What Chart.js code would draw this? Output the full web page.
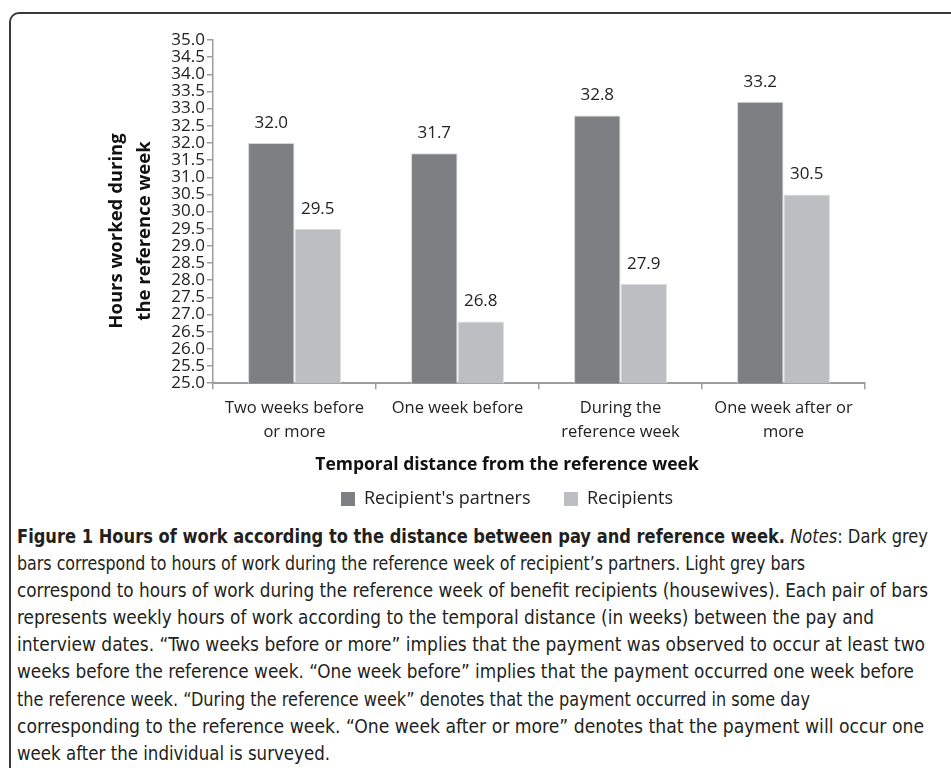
<!DOCTYPE html>
<html>
<head>
<meta charset="utf-8">
<script src="https://cdn.jsdelivr.net/npm/chart.js@4.4.1/dist/chart.umd.min.js"></script>
<style>
  html, body { margin: 0; padding: 0; background: #fff; width: 951px; height: 768px; overflow: hidden; }
  .frame { position: absolute; left: 9px; top: 12px; width: 1100px; height: 900px;
           border: 2px solid #3a3a3a; border-radius: 10px; }
  .plot { position: absolute; left: 0; top: 0; }
  .caption { position: absolute; left: 17px; top: 523px; color: #231f20;
             font-family: "Liberation Sans Narrow", "DejaVu Sans Condensed", "Roboto", sans-serif;
             font-size: 20px; line-height: 27.1px; white-space: nowrap; }
  .caption div { height: 27.1px; }
  .caption span.ln { display: inline-block; white-space: nowrap; transform-origin: 0 0; }
</style>
</head>
<body>
<div class="frame"></div>
<canvas id="hoursChart" class="plot" width="870" height="518"></canvas>
<div class="caption" id="caption">
  <div><span class="ln" data-w="911"><b>Figure 1 Hours of work according to the distance between pay and reference week.</b> <i>Notes</i>: Dark grey</span></div>
  <div><span class="ln" data-w="788">bars correspond to hours of work during the reference week of recipient’s partners. Light grey bars</span></div>
  <div><span class="ln" data-w="911">correspond to hours of work during the reference week of benefit recipients (housewives). Each pair of bars</span></div>
  <div><span class="ln" data-w="857">represents weekly hours of work according to the temporal distance (in weeks) between the pay and</span></div>
  <div><span class="ln" data-w="908">interview dates. “Two weeks before or more” implies that the payment was observed to occur at least two</span></div>
  <div><span class="ln" data-w="897">weeks before the reference week. “One week before” implies that the payment occurred one week before</span></div>
  <div><span class="ln" data-w="793">the reference week. “During the reference week” denotes that the payment occurred in some day</span></div>
  <div><span class="ln" data-w="907">corresponding to the reference week. “One week after or more” denotes that the payment will occur one</span></div>
  <div><span class="ln" data-w="313">week after the individual is surveyed.</span></div>
</div>
<script>
// Data
const categories = [
    ['Two weeks before', 'or more'],
    ['One week before'],
    ['During the', 'reference week'],
    ['One week after or', 'more']
];
const partnersHours = [32.0, 31.7, 32.8, 33.2];
const recipientsHours = [29.5, 26.8, 27.9, 30.5];
const seriesNames = ["Recipient's partners", 'Recipients'];
const yMin = 25, yMax = 35, yStep = 0.5;

const darkGrey = '#7e7f83';
const lightGrey = '#bdbec2';
const axisGrey = '#9d9d9d';
const font = 'Open Sans';

// squeeze each caption line to the width it has in the figure
document.querySelectorAll('#caption span.ln').forEach(el => {
    const w = el.getBoundingClientRect().width;
    el.style.transform = 'scaleX(' + (Number(el.dataset.w) / w) + ')';
});

// value labels over the bars
const barLabels = {
    id: 'barLabels',
    afterDatasetsDraw(chart) {
        const ctx = chart.ctx;
        ctx.save();
        ctx.font = '17px "' + font + '"';
        ctx.fillStyle = '#222';
        ctx.textAlign = 'center';
        ctx.textBaseline = 'alphabetic';
        chart.data.datasets.forEach((ds, i) => {
            chart.getDatasetMeta(i).data.forEach((bar, j) => {
                ctx.fillText(ds.data[j].toFixed(1), bar.x, bar.y - 15);
            });
        });
        ctx.restore();
    }
};

// two-line y axis title
const yTitle = {
    id: 'yTitle',
    afterDraw(chart) {
        const ctx = chart.ctx;
        ctx.save();
        ctx.translate(131, 231);
        ctx.rotate(-Math.PI / 2);
        ctx.font = 'bold 18.5px "' + font + '"';
        ctx.fillStyle = '#111';
        ctx.textAlign = 'center';
        ctx.textBaseline = 'middle';
        ctx.fillText('Hours worked during', 0, -14);
        ctx.fillText('the reference week', 0, 14);
        ctx.restore();
    }
};

new Chart(document.getElementById('hoursChart'), {
    type: 'bar',
    data: {
        labels: categories,
        datasets: [{
            label: seriesNames[0],
            data: partnersHours,
            backgroundColor: darkGrey,
            borderColor: '#d6d6d8',
            borderWidth: 1
        }, {
            label: seriesNames[1],
            data: recipientsHours,
            backgroundColor: lightGrey,
            borderColor: '#dcdcde',
            borderWidth: 1
        }]
    },
    options: {
        responsive: false,
        animation: false,
        datasets: { bar: { categoryPercentage: 0.57, barPercentage: 1 } },
        layout: { padding: { left: 149, right: 5, top: 40, bottom: 0 } },
        scales: {
            x: {
                offset: true,
                grid: { offset: true, drawOnChartArea: false, color: axisGrey, tickLength: 6, lineWidth: 1.5 },
                border: { color: axisGrey, width: 2 },
                ticks: { color: '#222', font: { family: font, size: 16.5, lineHeight: 1.45 }, padding: 7, maxRotation: 0, autoSkip: false }
            },
            y: {
                min: yMin,
                max: yMax,
                afterFit(scale) { scale.width = 64; },
                grid: { drawOnChartArea: false, color: axisGrey, tickLength: 6, lineWidth: 1.5 },
                border: { color: axisGrey, width: 1.5 },
                ticks: {
                    stepSize: yStep,
                    autoSkip: false,
                    padding: 2,
                    color: '#222',
                    font: { family: font, size: 17 },
                    callback: v => v.toFixed(1)
                }
            }
        },
        plugins: {
            title: {
                display: true,
                position: 'bottom',
                weight: 500,
                text: 'Temporal distance from the reference week',
                color: '#111',
                font: { family: font, size: 17.5, weight: 'bold' },
                padding: { top: 4, bottom: 4 }
            },
            legend: {
                position: 'bottom',
                labels: {
                    color: '#222',
                    font: { family: font, size: 18 },
                    boxWidth: 14,
                    boxHeight: 14,
                    padding: 10,
                    generateLabels(chart) {
                        const items = Chart.defaults.plugins.legend.labels.generateLabels(chart);
                        items.forEach((it, i) => {
                            it.lineWidth = 0;
                            if (i === 0) it.text = it.text + '     ';
                        });
                        return items;
                    }
                }
            },
            tooltip: { enabled: false }
        }
    },
    plugins: [barLabels, yTitle]
});
</script>
</body>
</html>
